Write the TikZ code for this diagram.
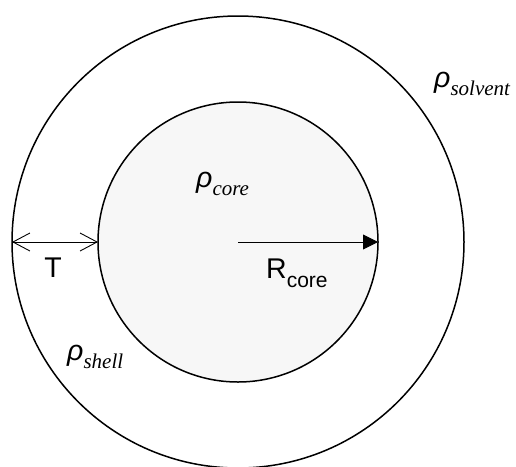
\documentclass[tikz,border=0pt]{standalone}
\usepackage{fontspec}
\setmainfont{Liberation Sans}
\newfontfamily\timesfont{Liberation Serif}
\usetikzlibrary{arrows.meta}

\newcommand{\bigtext}{\fontsize{28.5}{30}\selectfont}
\newcommand{\subtext}{\fontsize{21}{22}\selectfont}
\newcommand{\rhosub}[1]{{\itshape\char"03C1}\raisebox{-8pt}{\timesfont\itshape\subtext #1}}

\begin{document}
\begin{tikzpicture}[x=1pt, y=-1pt,
  ring/.style={circle, draw, line width=1.5pt, inner sep=0pt, outer sep=0pt},
  label/.style={inner sep=0pt, font=\bigtext}]
  \useasboundingbox (0,0) rectangle (516,466);
  \node[ring, minimum size=452pt] (outer) at (238,242) {};
  \node[ring, minimum size=280pt, fill=black!3] (inner) at (238,242) {};
  % thickness of the shell
  \draw[line width=0.9pt, {Straight Barb[length=17pt,width=18pt]}-{Straight Barb[length=17pt,width=18pt]}]
    (outer.west) -- (inner.west);
  % core radius
  \draw[line width=0.9pt, -{Triangle[length=15pt,width=15pt]}] (inner.center) -- (inner.east);
  \node[label, anchor=base] (thick) at (53,277) {T};
  \node[label, anchor=base west] (radius) at (266,278) {R\raisebox{-9pt}{\subtext core}};
  \node[label, anchor=base west] (rhocore) at (196,187) {\rhosub{core}};
  \node[label, anchor=base west] (rhoshell) at (67,360) {\rhosub{shell}};
  \node[label, anchor=base west] (rhosolv) at (434,87) {\rhosub{solvent}};
\end{tikzpicture}
\end{document}
